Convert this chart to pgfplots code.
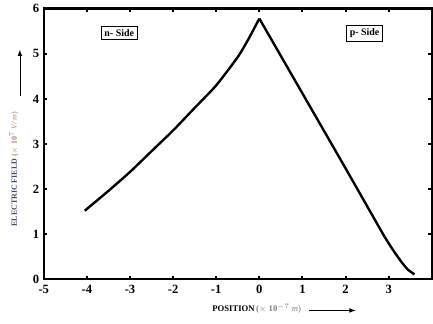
\documentclass[border=0pt]{standalone}
\usepackage{pgfplots}
\pgfplotsset{compat=1.18}
\usepackage{fontspec}
\setmainfont{Liberation Serif}
\definecolor{lblblue}{HTML}{3E4C6A}
\definecolor{lbltan}{HTML}{B08C66}
\begin{document}
\begin{tikzpicture}
\begin{axis}[
  at={(0,0)}, anchor=south west,
  scale only axis, width=292.5pt, height=204pt,
  xmin=-5, xmax=4, ymin=0, ymax=6,
  xtick={-5,-4,...,3}, ytick={0,1,...,6},
  tick align=inside, major tick length=2.5pt,
  tick style={line width=1.5pt, black},
  axis line style={line width=1.8pt},
  /pgf/number format/assume math mode=true,
  ticklabel style={font=\fontsize{9.5}{10}\selectfont\bfseries},
  xticklabel style={yshift=-1pt},
  clip=false,
]
\addplot[black, line width=1.8pt, smooth, tension=0.4] coordinates {
(-4.05,1.52) (-3.5,1.96) (-3,2.38) (-2.5,2.84) (-2,3.30) (-1.5,3.80)
(-1,4.30) (-0.5,4.93) (-0.25,5.33) (0,5.78)
};
\addplot[black, line width=1.8pt] coordinates {
(0,5.78) (0.5,4.95) (1,4.12) (1.5,3.29) (2,2.46) (2.5,1.62) (2.9,0.95)
};
\addplot[black, line width=1.8pt, smooth, tension=0.5] coordinates {
(2.9,0.95) (3.1,0.65) (3.3,0.38) (3.45,0.21) (3.6,0.11)
};
\node[draw, line width=0.9pt, inner sep=2.5pt, font=\fontsize{7.5}{8}\selectfont\bfseries] at (axis cs:-3.25,5.46) {n- Side};
\node[draw, line width=0.9pt, inner sep=2.5pt, font=\fontsize{7.5}{8}\selectfont\bfseries] at (axis cs:2.44,5.45) {p- Side};
\end{axis}
% x label
\node[font=\fontsize{6.5}{7}\selectfont\bfseries, anchor=center] at (160.5pt,-22pt)
  {POSITION\,{\color{gray}(\mdseries$\times$ \textbf{10}$^{-7}$ \textit{m})}};
\draw[-latex, line width=0.6pt] (200pt,-23.5pt) -- (235pt,-23.5pt);
% y label
\node[rotate=90, font=\fontsize{6}{7}\selectfont\bfseries, anchor=center] at (-22.5pt,83pt)
  {\color{lblblue}ELECTRIC FIELD \color{lbltan}(\mdseries$\times$ \textbf{10}$^{7}$ \textit{V/ m})};
\draw[-latex, line width=0.6pt] (-18pt,138pt) -- (-18pt,173pt);
\useasboundingbox (-33pt,-33pt) rectangle (291.75pt,208.5pt);
\end{tikzpicture}
\end{document}
